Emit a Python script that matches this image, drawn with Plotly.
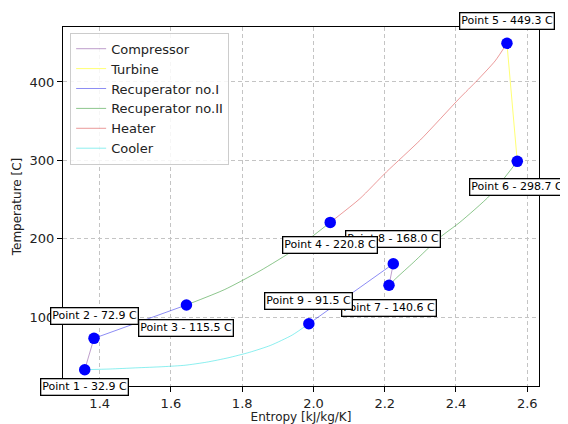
import plotly.graph_objects as go

# State points
point_names = ["Point 1", "Point 2", "Point 3", "Point 4", "Point 5",
               "Point 6", "Point 7", "Point 8", "Point 9"]
point_s = [1.358, 1.384, 1.6435, 2.047, 2.543, 2.572, 2.212, 2.224, 1.987]
point_T = [32.9, 72.9, 115.5, 220.8, 449.3, 298.7, 140.6, 168.0, 91.5]
label_dy = [17, -22, 23, 23, -22, 26, 23, -25, -23]  # label pixel offsets (down positive)
label_order = [0, 1, 2, 4, 5, 6, 7, 3, 8]  # drawing order (later on top)

# Process paths
comp_s = [1.358, 1.384, None, 2.212, 2.224]
comp_T = [32.9, 72.9, None, 140.6, 168.0]

turb_s = [2.543, 2.572]
turb_T = [449.3, 298.7]

rec1_s = [1.384, 1.6435, None, 1.987, 2.224]
rec1_T = [72.9, 115.5, None, 91.5, 168.0]

rec2_s = [1.6435, 1.75, 1.85, 1.95, 2.047, None,
          2.572, 2.4955, 2.411, 2.355, 2.280, 2.2334, 2.212]
rec2_T = [115.5, 135.0, 159.0, 187.0, 220.8, None,
          298.7, 255.3, 221.0, 201.7, 169.5, 150.2, 140.6]

heat_s = [2.047, 2.130, 2.205, 2.300, 2.411, 2.458, 2.510, 2.543]
heat_T = [220.8, 251.0, 285.3, 326.0, 379.7, 401.2, 426.9, 449.3]

cool_s = [1.987, 1.94, 1.88, 1.82, 1.76, 1.70, 1.64, 1.58, 1.50, 1.43, 1.358]
cool_T = [91.5, 77.0, 64.0, 55.0, 48.0, 42.5, 38.6, 36.8, 35.2, 33.8, 32.9]

fig = go.Figure()

def add_line(xs, ys, name, color):
    fig.add_trace(go.Scatter(x=xs, y=ys, mode="lines", name=name,
                             line=dict(color=color, width=1, shape="spline", smoothing=0.6),
                             connectgaps=False, hoverinfo="skip"))

add_line(comp_s, comp_T, "Compressor", "rgba(110,40,140,0.45)")
add_line(turb_s, turb_T, "Turbine", "rgba(255,255,0,0.55)")
add_line(rec1_s, rec1_T, "Recuperator no.I", "rgba(0,0,230,0.45)")
add_line(rec2_s, rec2_T, "Recuperator no.II", "rgba(0,128,0,0.45)")
add_line(heat_s, heat_T, "Heater", "rgba(210,30,30,0.45)")
add_line(cool_s, cool_T, "Cooler", "rgba(0,220,220,0.45)")

fig.add_trace(go.Scatter(x=point_s, y=point_T, mode="markers", showlegend=False,
                         marker=dict(color="blue", size=11.5, line=dict(width=0))))

for i in label_order:
    name, s, T, dy = point_names[i], point_s[i], point_T[i], label_dy[i]
    fig.add_annotation(x=s, y=T, text=f"{name} - {T:.1f} C", showarrow=True,
                       arrowcolor="rgba(0,0,0,0)", ax=0, ay=dy,
                       font=dict(family="DejaVu Sans", size=11, color="black"),
                       bgcolor="white", bordercolor="black", borderwidth=1.3,
                       borderpad=1)

axis_common = dict(showline=True, linecolor="black", linewidth=1, mirror=True,
                   ticks="outside", ticklen=5, tickcolor="black",
                   showgrid=True, gridcolor="#c4c4c4", griddash="4px,3px", gridwidth=1,
                   zeroline=False, automargin=False,
                   tickfont=dict(family="DejaVu Sans", size=13, color="#222"))

fig.update_xaxes(range=[1.297, 2.633], dtick=0.2, tick0=1.4, tickformat=".1f",
                 title=dict(text="Entropy [kJ/kg/K]", standoff=3,
                            font=dict(family="DejaVu Sans", size=12, color="#222")),
                 **axis_common)
fig.update_yaxes(range=[12.1, 470.1], dtick=100, tick0=0,
                 title=dict(text="Temperature [C]", standoff=5,
                            font=dict(family="DejaVu Sans", size=12, color="#222")),
                 **axis_common)

fig.update_layout(
    width=560, height=416,
    margin=dict(l=55, r=29, t=19, b=38, autoexpand=False),
    paper_bgcolor="white", plot_bgcolor="white",
    font=dict(family="DejaVu Sans", size=12, color="#222"),
    legend=dict(x=0.015, y=0.984, xanchor="left", yanchor="top",
                bgcolor="rgba(255,255,255,0.85)", bordercolor="#cccccc",
                borderwidth=1, font=dict(family="DejaVu Sans", size=13, color="#222"),
                tracegroupgap=0, itemwidth=30),
    showlegend=True,
)

fig.write_html("out.html")
